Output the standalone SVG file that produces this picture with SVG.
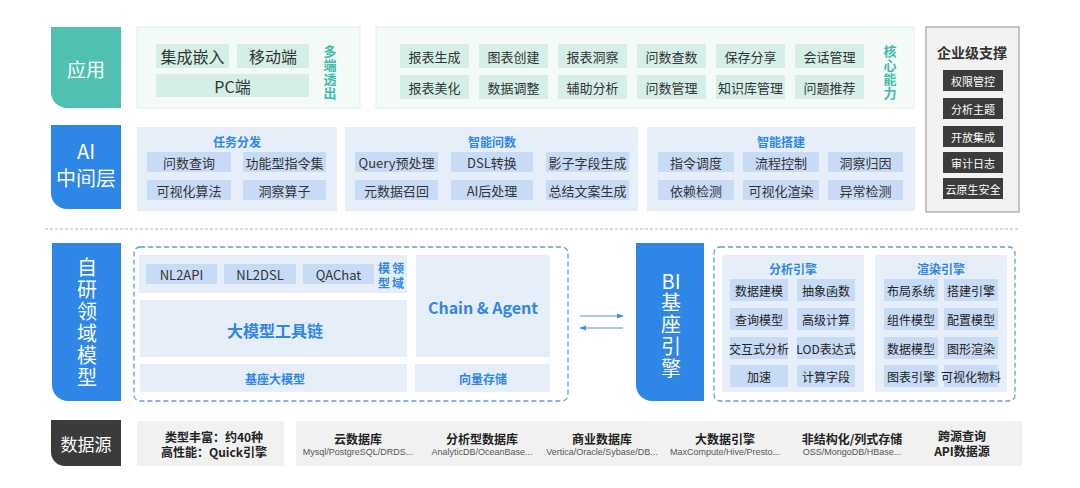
<svg xmlns="http://www.w3.org/2000/svg" width="1080" height="488" viewBox="0 0 1080 488">
<defs>
<style>
text{font-family:"Noto Sans CJK SC","Noto Sans",sans-serif;text-anchor:middle;dominant-baseline:central}
.vert{writing-mode:vertical-rl;text-orientation:upright}
.tabT{fill:#fff;font-size:19px}
.tabV{fill:#fff;font-size:20px}
.gpanel{fill:#f3faf8;stroke:#e1eeea;stroke-width:1}
.gbtn{fill:#d5efe8}
.gbig{fill:#333;font-size:16px}
.gtxt{fill:#333;font-size:13px}
.teal{fill:#3fbcab;font-size:13px;font-weight:700;letter-spacing:1px}
.bpanel{fill:#e6eefa}
.bbtn{fill:#c7dbf6}
.btxt{fill:#333;font-size:13px}
.bsm{fill:#222;font-size:12px}
.btitle{fill:#2f86e6;font-size:12px;font-weight:700}
.bbig{fill:#2f86e6;font-size:16px;font-weight:700}
.dash{fill:none;stroke:#5d9de6;stroke-width:1.3;stroke-dasharray:5 3}
.ebtn{fill:#3c3c3c}
.etxt{fill:#fff;font-size:11px}
.dpanel{fill:#f1f1f1}
.dtitle{fill:#222;font-size:12px;font-weight:700}
.dsub{fill:#555;font-size:9px;font-family:"Liberation Sans","Noto Sans CJK SC",sans-serif}
.conn{stroke:#4a8fe0;stroke-width:1.2;fill:none}
</style>
<marker id="ah" viewBox="0 0 8 8" refX="7" refY="4" markerWidth="7" markerHeight="7" orient="auto-start-reverse" markerUnits="userSpaceOnUse">
<path d="M0,1 L8,4 L0,7 Z" fill="#4a8fe0"/>
</marker>
</defs>
<rect width="1080" height="488" fill="#fff"/>

<!-- Row 1 -->
<g id="tab-app">
<path d="M51,27 H121 V108 H67 A16,16 0 0 1 51,92 Z" fill="#4fc1b0"/>
<text class="tabT" x="86" y="68">应用</text>
</g>
<g id="panel-multi">
<rect class="gpanel" x="137" y="27" width="223" height="81"/>
<rect class="gbtn" x="156" y="44" width="73" height="24"/><text class="gbig" x="192.5" y="56">集成嵌入</text>
<rect class="gbtn" x="237" y="44" width="72" height="24"/><text class="gbig" x="273" y="56">移动端</text>
<rect class="gbtn" x="156" y="74" width="153" height="23"/><text class="gbig" x="232.5" y="85.5">PC端</text>
<text class="teal vert" x="330" y="73">多端透出</text>
</g>
<g id="panel-core">
<rect class="gpanel" x="376" y="27" width="538" height="81"/>
<rect class="gbtn" x="400" y="44" width="69" height="24"/><text class="gtxt" x="434.5" y="56">报表生成</text>
<rect class="gbtn" x="479" y="44" width="69" height="24"/><text class="gtxt" x="513.5" y="56">图表创建</text>
<rect class="gbtn" x="558" y="44" width="69" height="24"/><text class="gtxt" x="592.5" y="56">报表洞察</text>
<rect class="gbtn" x="637" y="44" width="69" height="24"/><text class="gtxt" x="671.5" y="56">问数查数</text>
<rect class="gbtn" x="716" y="44" width="69" height="24"/><text class="gtxt" x="750.5" y="56">保存分享</text>
<rect class="gbtn" x="795" y="44" width="69" height="24"/><text class="gtxt" x="829.5" y="56">会话管理</text>
<rect class="gbtn" x="400" y="75" width="69" height="24"/><text class="gtxt" x="434.5" y="87">报表美化</text>
<rect class="gbtn" x="479" y="75" width="69" height="24"/><text class="gtxt" x="513.5" y="87">数据调整</text>
<rect class="gbtn" x="558" y="75" width="69" height="24"/><text class="gtxt" x="592.5" y="87">辅助分析</text>
<rect class="gbtn" x="637" y="75" width="69" height="24"/><text class="gtxt" x="671.5" y="87">问数管理</text>
<rect class="gbtn" x="716" y="75" width="69" height="24"/><text class="gtxt" x="750.5" y="87">知识库管理</text>
<rect class="gbtn" x="795" y="75" width="69" height="24"/><text class="gtxt" x="829.5" y="87">问题推荐</text>
<text class="teal vert" x="890" y="73">核心能力</text>
</g>
<g id="enterprise">
<rect x="926" y="27" width="93" height="185" fill="#f2f2f2" stroke="#8f8f8f" stroke-width="1"/>
<text x="972" y="52" fill="#333" font-size="14" font-weight="700">企业级支撑</text>
<rect class="ebtn" x="943" y="70" width="60" height="21"/><text class="etxt" x="973" y="80.5">权限管控</text>
<rect class="ebtn" x="943" y="98" width="60" height="21"/><text class="etxt" x="973" y="108.5">分析主题</text>
<rect class="ebtn" x="943" y="126" width="60" height="21"/><text class="etxt" x="973" y="136.5">开放集成</text>
<rect class="ebtn" x="943" y="152" width="60" height="21"/><text class="etxt" x="973" y="162.5">审计日志</text>
<rect class="ebtn" x="943" y="178" width="60" height="21"/><text class="etxt" x="973" y="188.5">云原生安全</text>
</g>

<!-- Row 2 -->
<g id="tab-ai">
<path d="M51,125 H121 V209 H67 A16,16 0 0 1 51,193 Z" fill="#2e86e6"/>
<text class="tabV" x="86" y="150" font-size="19">AI<tspan x="86" dy="27">中间层</tspan></text>
</g>
<g id="panel-task">
<rect class="bpanel" x="137" y="127" width="200" height="84"/>
<text class="btitle" x="237" y="141">任务分发</text>
<rect class="bbtn" x="147" y="152" width="84" height="20"/><text class="btxt" x="189" y="162">问数查询</text>
<rect class="bbtn" x="243" y="152" width="83" height="20"/><text class="btxt" x="284.5" y="162">功能型指令集</text>
<rect class="bbtn" x="147" y="180" width="84" height="20"/><text class="btxt" x="189" y="190">可视化算法</text>
<rect class="bbtn" x="243" y="180" width="83" height="20"/><text class="btxt" x="284.5" y="190">洞察算子</text>
</g>
<g id="panel-ask">
<rect class="bpanel" x="345" y="127" width="293" height="84"/>
<text class="btitle" x="492" y="141">智能问数</text>
<rect class="bbtn" x="355" y="152" width="83" height="20"/><text class="btxt" x="396.5" y="162">Query预处理</text>
<rect class="bbtn" x="451" y="152" width="82" height="20"/><text class="btxt" x="492" y="162">DSL转换</text>
<rect class="bbtn" x="546" y="152" width="83" height="20"/><text class="btxt" x="587.5" y="162">影子字段生成</text>
<rect class="bbtn" x="355" y="180" width="83" height="20"/><text class="btxt" x="396.5" y="190">元数据召回</text>
<rect class="bbtn" x="451" y="180" width="82" height="20"/><text class="btxt" x="492" y="190">AI后处理</text>
<rect class="bbtn" x="546" y="180" width="83" height="20"/><text class="btxt" x="587.5" y="190">总结文案生成</text>
</g>
<g id="panel-build">
<rect class="bpanel" x="647" y="127" width="268" height="84"/>
<text class="btitle" x="781" y="141">智能搭建</text>
<rect class="bbtn" x="658" y="152" width="76" height="20"/><text class="btxt" x="696" y="162">指令调度</text>
<rect class="bbtn" x="743" y="152" width="76" height="20"/><text class="btxt" x="781" y="162">流程控制</text>
<rect class="bbtn" x="828" y="152" width="75" height="20"/><text class="btxt" x="865.5" y="162">洞察归因</text>
<rect class="bbtn" x="658" y="180" width="76" height="20"/><text class="btxt" x="696" y="190">依赖检测</text>
<rect class="bbtn" x="743" y="180" width="76" height="20"/><text class="btxt" x="781" y="190">可视化渲染</text>
<rect class="bbtn" x="828" y="180" width="75" height="20"/><text class="btxt" x="865.5" y="190">异常检测</text>
</g>

<line x1="45" y1="229" x2="1018" y2="229" stroke="#a8b2de" stroke-width="1" stroke-dasharray="3 2"/>

<!-- Row 3 -->
<g id="tab-model">
<path d="M52,243 H121 V401 H68 A16,16 0 0 1 52,385 Z" fill="#2e86e6"/>
<text class="tabV vert" x="87" y="323" style="letter-spacing:2px">自研领域模型</text>
</g>
<g id="model-box">
<rect class="dash" x="134" y="247" width="434" height="154" rx="6"/>
<g id="domain-models">
<rect class="bpanel" x="139" y="255" width="268" height="38"/>
<rect class="bbtn" x="146" y="264" width="71" height="20"/><text class="btxt" x="181.5" y="274">NL2API</text>
<rect class="bbtn" x="224" y="264" width="72" height="20"/><text class="btxt" x="260" y="274">NL2DSL</text>
<rect class="bbtn" x="303" y="264" width="71" height="20"/><text class="btxt" x="338.5" y="274">QAChat</text>
<text class="btitle vert" x="384" y="277" font-size="11" style="letter-spacing:3px">模型</text>
<text class="btitle vert" x="398" y="277" font-size="11" style="letter-spacing:3px">领域</text>
</g>
<g id="toolchain">
<rect class="bpanel" x="140" y="300" width="267" height="57"/>
<text class="bbig" x="275" y="330">大模型工具链</text>
</g>
<g id="base-model">
<rect class="bpanel" x="140" y="364" width="267" height="28"/>
<text class="btitle" x="275" y="378">基座大模型</text>
</g>
<g id="chain-agent">
<rect class="bpanel" x="416" y="255" width="134" height="102"/>
<text class="bbig" x="483" y="307">Chain &amp; Agent</text>
</g>
<g id="vector-store">
<rect class="bpanel" x="415" y="364" width="135" height="28"/>
<text class="btitle" x="483" y="378">向量存储</text>
</g>
</g>

<g id="connectors">
<line class="conn" x1="580" y1="316" x2="623" y2="316" marker-end="url(#ah)"/>
<line class="conn" x1="623" y1="328" x2="580" y2="328" marker-end="url(#ah)"/>
</g>

<g id="tab-bi">
<path d="M636,243 H704 V401 H652 A16,16 0 0 1 636,385 Z" fill="#2e86e6"/>
<text class="tabV" x="671" y="280">BI</text>
<text class="tabV vert" x="671" y="336" style="letter-spacing:2px">基座引擎</text>
</g>
<g id="bi-box">
<rect class="dash" x="714" y="247" width="301" height="154" rx="6"/>
<g id="analysis-engine">
<rect class="bpanel" x="722" y="255" width="142" height="137"/>
<text class="btitle" x="793" y="268">分析引擎</text>
<rect class="bbtn" x="730" y="279" width="58" height="22"/><text class="bsm" x="759" y="290">数据建模</text>
<rect class="bbtn" x="797" y="279" width="58" height="22"/><text class="bsm" x="826" y="290">抽象函数</text>
<rect class="bbtn" x="730" y="308" width="58" height="22"/><text class="bsm" x="759" y="319">查询模型</text>
<rect class="bbtn" x="797" y="308" width="58" height="22"/><text class="bsm" x="826" y="319">高级计算</text>
<rect class="bbtn" x="730" y="337" width="58" height="22"/><text class="bsm" x="759" y="348">交互式分析</text>
<rect class="bbtn" x="797" y="337" width="58" height="22"/><text class="bsm" x="826" y="348">LOD表达式</text>
<rect class="bbtn" x="730" y="365" width="58" height="22"/><text class="bsm" x="759" y="376">加速</text>
<rect class="bbtn" x="797" y="365" width="58" height="22"/><text class="bsm" x="826" y="376">计算字段</text>
</g>
<g id="render-engine">
<rect class="bpanel" x="875" y="255" width="132" height="137"/>
<text class="btitle" x="941" y="268">渲染引擎</text>
<rect class="bbtn" x="884" y="279" width="54" height="22"/><text class="bsm" x="911" y="290">布局系统</text>
<rect class="bbtn" x="944" y="279" width="54" height="22"/><text class="bsm" x="971" y="290">搭建引擎</text>
<rect class="bbtn" x="884" y="308" width="54" height="22"/><text class="bsm" x="911" y="319">组件模型</text>
<rect class="bbtn" x="944" y="308" width="54" height="22"/><text class="bsm" x="971" y="319">配置模型</text>
<rect class="bbtn" x="884" y="337" width="54" height="22"/><text class="bsm" x="911" y="348">数据模型</text>
<rect class="bbtn" x="944" y="337" width="54" height="22"/><text class="bsm" x="971" y="348">图形渲染</text>
<rect class="bbtn" x="884" y="365" width="54" height="22"/><text class="bsm" x="911" y="376">图表引擎</text>
<rect class="bbtn" x="944" y="365" width="54" height="22"/><text class="bsm" x="971" y="376">可视化物料</text>
</g>
</g>

<!-- Row 4 -->
<g id="tab-data">
<path d="M51,420 H121 V466 H65 A14,14 0 0 1 51,452 Z" fill="#3b3b3b"/>
<text x="86" y="443" fill="#fff" font-size="17">数据源</text>
</g>
<g id="ds-summary">
<rect class="dpanel" x="137" y="421" width="147" height="45"/>
<text class="dtitle" x="214" y="436">类型丰富：约40种<tspan x="214" dy="15">高性能：Quick引擎</tspan></text>
</g>
<g id="ds-types">
<rect class="dpanel" x="296" y="421" width="726" height="45"/>
<text class="dtitle" x="358" y="438">云数据库</text><text class="dsub" x="358" y="452">Mysql/PostgreSQL/DRDS...</text>
<text class="dtitle" x="482" y="438">分析型数据库</text><text class="dsub" x="482" y="452">AnalyticDB/OceanBase...</text>
<text class="dtitle" x="602" y="438">商业数据库</text><text class="dsub" x="602" y="452">Vertica/Oracle/Sybase/DB...</text>
<text class="dtitle" x="725" y="438">大数据引擎</text><text class="dsub" x="725" y="452">MaxCompute/Hive/Presto...</text>
<text class="dtitle" x="852" y="438">非结构化/列式存储</text><text class="dsub" x="852" y="452">OSS/MongoDB/HBase...</text>
<text class="dtitle" x="962" y="435">跨源查询<tspan x="962" dy="15">API数据源</tspan></text>
</g>
</svg>
